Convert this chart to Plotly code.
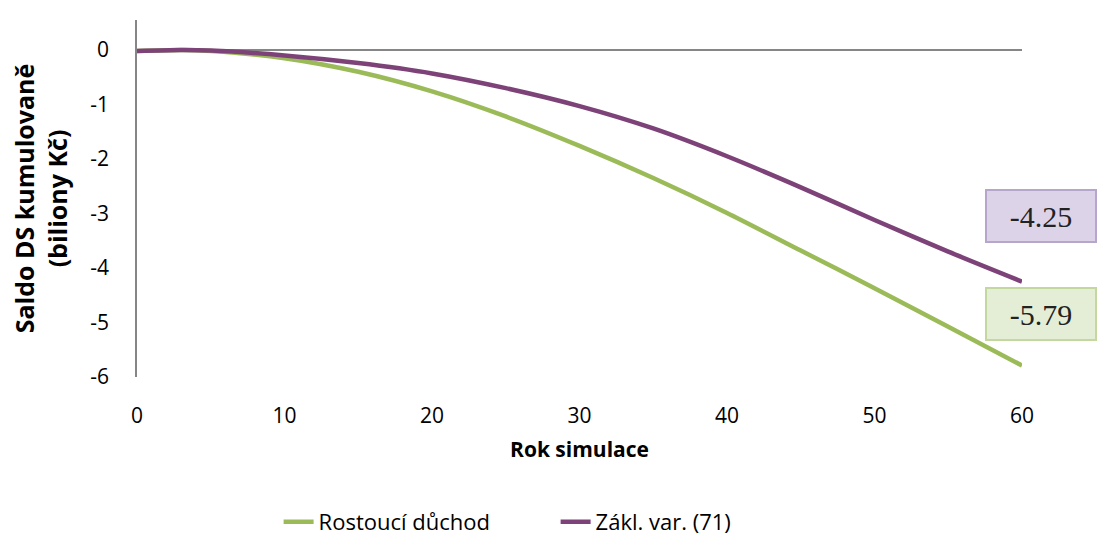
import plotly.graph_objects as go

# Simulation years and cumulative balance of the pension system (trillions CZK)
years = [0, 3, 5, 10, 15, 20, 25, 30, 35, 40, 45, 50, 55, 60]
rostouci_duchod = [-0.02, 0.0, -0.02, -0.15, -0.40, -0.76, -1.22, -1.76, -2.35, -2.99, -3.68, -4.37, -5.08, -5.79]
zakl_var_71 = [-0.02, 0.0, -0.01, -0.10, -0.24, -0.43, -0.70, -1.03, -1.44, -1.95, -2.52, -3.12, -3.70, -4.25]

series_names = ["Rostoucí důchod", "Zákl. var. (71)"]
x_ticks = [0, 10, 20, 30, 40, 50, 60]
y_ticks = [0, -1, -2, -3, -4, -5, -6]
y_tick_text = ["0", "-1", "-2", "-3", "-4", "-5", "-6"]

GREEN = "#9bbb59"
PURPLE = "#7d4379"
AXIS_GRAY = "#868686"
SANS = "Open Sans, Liberation Sans, Arial, sans-serif"

fig = go.Figure()
fig.add_trace(go.Scatter(
    x=years, y=rostouci_duchod, name=series_names[0], mode="lines",
    line=dict(color=GREEN, width=4.5, shape="spline", smoothing=0.8),
))
fig.add_trace(go.Scatter(
    x=years, y=zakl_var_71, name=series_names[1], mode="lines",
    line=dict(color=PURPLE, width=4.5, shape="spline", smoothing=0.8),
))

# End-value callouts
labels = [
    (zakl_var_71[-1], "#ddd3e8", "#b7a6cc", 66),
    (rostouci_duchod[-1], "#e4eed6", "#c4d79f", 52),
]
for val, bg, border, ysh in labels:
    fig.add_annotation(
        x=years[-1], y=val, xref="x", yref="y",
        text=f"{val:.2f}", showarrow=False,
        xshift=19, yshift=ysh, width=106, height=48,
        bgcolor=bg, bordercolor=border, borderwidth=2,
        font=dict(family="Liberation Serif, Times New Roman, serif", size=30, color="#222222"),
    )

fig.update_layout(
    width=1097, height=536,
    margin=dict(l=137, r=75, t=20, b=159, autoexpand=False),
    paper_bgcolor="white", plot_bgcolor="white",
    font=dict(family=SANS, size=21, color="#000000"),
    showlegend=True,
    legend=dict(
        orientation="h", x=0.473, xanchor="center", y=-0.406, yanchor="middle",
        font=dict(family=SANS, size=22, color="#000000"),
        entrywidth=232, traceorder="normal",
    ),
    xaxis=dict(
        range=[0, 60], tickvals=x_ticks, ticks="", showline=False,
        showgrid=False, zeroline=False, ticklabelstandoff=24, automargin=False,
        tickfont=dict(size=21),
        title=dict(text="<b>Rok simulace</b>", font=dict(size=21), standoff=14),
    ),
    yaxis=dict(
        range=[-6, 0.55], tickvals=y_ticks, ticktext=y_tick_text, ticks="",
        showline=True, automargin=False,
        linecolor=AXIS_GRAY, linewidth=1.5, showgrid=False,
        zeroline=True, zerolinecolor=AXIS_GRAY, zerolinewidth=1.5,
        ticklabelstandoff=22, tickfont=dict(size=21),
        title=dict(text="<b>Saldo DS kumulovaně<br>(biliony Kč)</b>", font=dict(size=25), standoff=16),
    ),
)

fig.write_html("out.html")
